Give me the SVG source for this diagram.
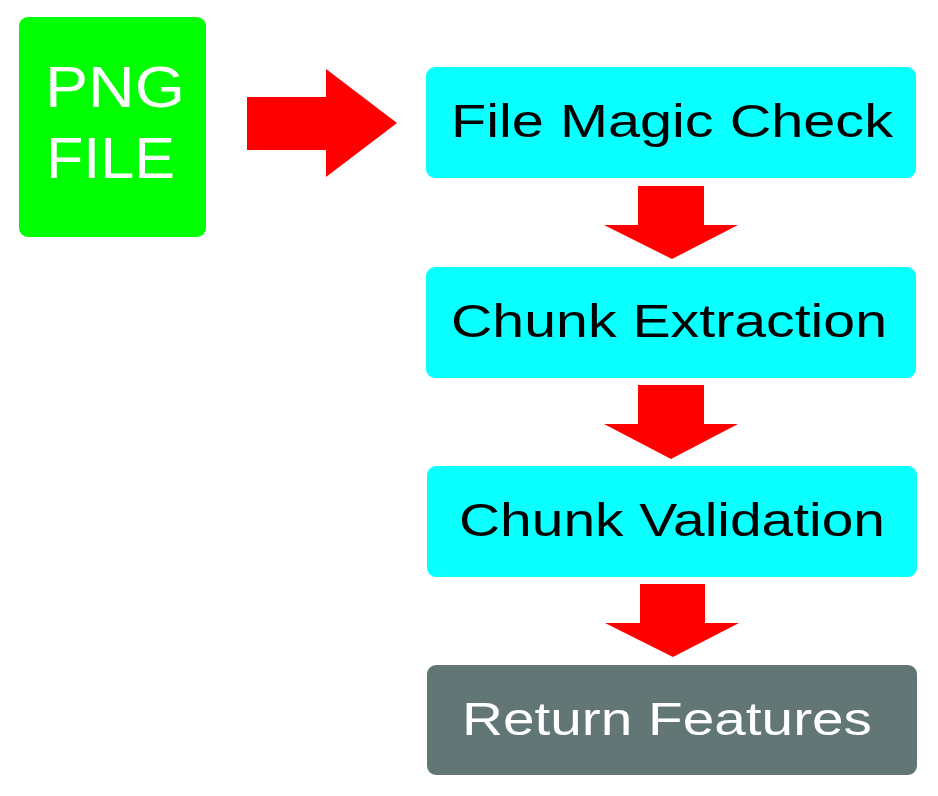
<svg xmlns="http://www.w3.org/2000/svg" width="938" height="796" viewBox="0 0 938 796">
<style>
.lbl{font-family:"Liberation Sans",Arial,Helvetica,sans-serif;font-size:47px;text-anchor:middle}
.dark{fill:#000}
.light{fill:#fff}
.step{fill:#0affff}
.arrow{fill:#ff0000}
</style>
<rect width="938" height="796" fill="#fff"/>
<g id="png-file">
<rect x="19" y="17" width="187" height="220" rx="9" fill="#00ff00"/>
<text x="45" y="107" font-family="Liberation Sans,Arial,sans-serif" font-size="58" fill="#fff" textLength="140" lengthAdjust="spacingAndGlyphs">PNG</text>
<text x="46" y="178" font-family="Liberation Sans,Arial,sans-serif" font-size="58" fill="#fff" textLength="129" lengthAdjust="spacingAndGlyphs">FILE</text>
</g>
<g id="file-magic-check">
<rect class="step" x="426" y="67" width="490" height="111" rx="9"/>
<text class="lbl dark" x="672" y="137" textLength="442" lengthAdjust="spacingAndGlyphs">File Magic Check</text>
</g>
<g id="chunk-extraction">
<rect class="step" x="426" y="267" width="490" height="111" rx="9"/>
<text class="lbl dark" x="669" y="337" textLength="436" lengthAdjust="spacingAndGlyphs">Chunk Extraction</text>
</g>
<g id="chunk-validation">
<rect class="step" x="427" y="466" width="490" height="111" rx="9"/>
<text class="lbl dark" x="672" y="536" textLength="426" lengthAdjust="spacingAndGlyphs">Chunk Validation</text>
</g>
<g id="return-features">
<rect x="427" y="665" width="490" height="110" rx="9" fill="#627675"/>
<text class="lbl light" x="667" y="735" textLength="410" lengthAdjust="spacingAndGlyphs">Return Features</text>
</g>
<g id="connectors">
<polygon class="arrow" points="247,97 326,97 326,69 397,123 326,177 326,150 247,150"/>
<polygon class="arrow" points="638,186 704,186 704,225 738,225 672,259 604,225 638,225"/>
<polygon class="arrow" points="638,385 704,385 704,424 738,424 671,459 604,424 638,424"/>
<polygon class="arrow" points="640,584 705,584 705,623 739,623 673,657 605,623 640,623"/>
</g>
</svg>
